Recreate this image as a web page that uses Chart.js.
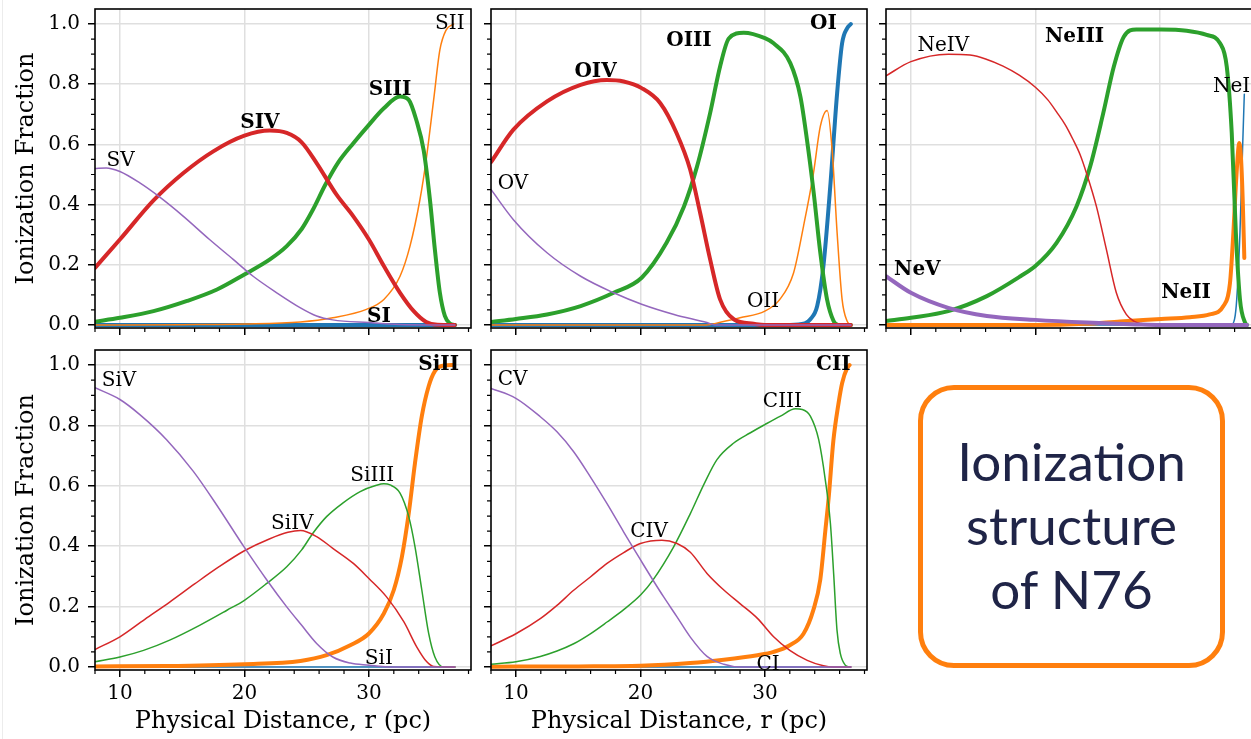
<!DOCTYPE html>
<html><head><meta charset="utf-8">
<script src="https://cdn.jsdelivr.net/npm/chart.js@4.4.1/dist/chart.umd.min.js"></script>
<style>
html,body{margin:0;padding:0;background:#fff;overflow:hidden;width:1251px;height:739px;}
canvas{position:absolute;}
#edge{position:absolute;left:2px;top:0;width:1px;height:739px;background:#ececec;}
#box{position:absolute;left:918px;top:385px;width:307px;height:283px;box-sizing:border-box;border:5px solid #ff7f0e;border-radius:36px;}
#boxtext{position:absolute;left:918px;top:429px;width:307px;text-align:center;font-family:Lato,sans-serif;font-size:53px;line-height:64px;color:#1f2447;}
</style></head>
<body>
<div id="edge"></div>
<canvas id="c1" width="480" height="340" style="left:0;top:0"></canvas>
<canvas id="c2" width="400" height="340" style="left:480px;top:0"></canvas>
<canvas id="c3" width="400" height="340" style="left:876px;top:0"></canvas>
<canvas id="c4" width="480" height="399" style="left:0;top:340px"></canvas>
<canvas id="c5" width="400" height="399" style="left:480px;top:340px"></canvas>
<div id="box"></div>
<div id="boxtext">Ionization<br>structure<br>of N76</div>
<script>
// ---- axes ----
const xTicks = [10, 20, 30];
const yTicks = [0, 0.2, 0.4, 0.6, 0.8, 1.0];
const xMinor = [8, 12, 14, 16, 18, 22, 24, 26, 28, 32, 34, 36, 38];
const yMinor = [0.05, 0.1, 0.15, 0.25, 0.3, 0.35, 0.45, 0.5, 0.55, 0.65, 0.7, 0.75, 0.85, 0.9, 0.95];
const xTitle = 'Physical Distance, r (pc)';
const yTitle = 'Ionization Fraction';

// ---- Sulfur ----
const S_I = [[8,0],[36.9,0]];
const S_II = [[8,0],[15,0.001],[20,0.003],[24.5,0.01],[27.1,0.024],[29.8,0.052],[31.2,0.085],[32.5,0.162],[33.3,0.262],[34.1,0.417],[34.6,0.549],[35.2,0.748],[35.7,0.914],[36.2,0.98],[36.8,1.0]];
const S_III = [[8,0.011],[10,0.024],[12.7,0.046],[15.4,0.08],[17.8,0.118],[20,0.168],[22.05,0.218],[23.4,0.262],[24.6,0.319],[25.5,0.383],[26.5,0.466],[27.5,0.538],[28.75,0.604],[30,0.665],[31.2,0.72],[32.5,0.759],[33.2,0.748],[33.8,0.682],[34.4,0.58],[34.9,0.417],[35.3,0.25],[35.7,0.107],[36.1,0.03],[36.5,0.005],[36.9,0]];
const S_IV = [[8,0.19],[10,0.284],[12.7,0.414],[15.1,0.505],[17.5,0.577],[20,0.629],[22.05,0.646],[23.4,0.638],[24.6,0.607],[25.8,0.538],[27.4,0.433],[28.75,0.361],[30,0.284],[31.2,0.196],[32.5,0.107],[33.6,0.046],[34.6,0.01],[35.5,0.001],[36.9,0]];
const S_V = [[8,0.52],[8.9,0.522],[10,0.51],[11.6,0.472],[13.1,0.428],[15.1,0.361],[17.2,0.284],[19.1,0.218],[20.7,0.162],[22.6,0.107],[24.5,0.057],[25.8,0.03],[27.1,0.017],[30,0.008],[32.5,0.002],[36.9,0]];
const S_names = ['SI','SII','SIII','SIV','SV'];
const S_labelAt = [[30.8,0.035],[36.5,1.008],[31.7,0.79],[21.25,0.678],[10.06,0.551]];

// ---- Oxygen ----
const O_I = [[8,0],[32,0],[33.2,0.005],[33.65,0.019],[34.2,0.063],[34.7,0.196],[35.25,0.461],[35.8,0.77],[36.2,0.936],[36.6,0.986],[36.9,1.0]];
const O_II = [[8,0],[25.3,0],[26.5,0.01],[28,0.024],[30,0.046],[31.2,0.085],[32.3,0.173],[33.1,0.328],[33.9,0.505],[34.45,0.66],[35,0.713],[35.4,0.582],[35.8,0.306],[36.2,0.085],[36.6,0.013],[36.9,0]];
const O_III = [[8,0.01],[10,0.02],[12.5,0.035],[15.2,0.063],[17.85,0.107],[20.1,0.157],[22.1,0.273],[23.5,0.394],[24.55,0.527],[25.6,0.704],[26.4,0.859],[27.1,0.952],[28.3,0.971],[30,0.953],[30.7,0.936],[32.04,0.87],[32.85,0.759],[33.38,0.615],[33.92,0.439],[34.45,0.24],[34.99,0.085],[35.52,0.013],[35.9,0],[36.9,0]];
const O_IV = [[8,0.541],[9.8,0.649],[12.5,0.743],[15.2,0.798],[17.3,0.814],[18.65,0.809],[20.1,0.787],[21.6,0.737],[22.9,0.638],[24,0.516],[24.8,0.372],[25.6,0.218],[26.4,0.085],[27.5,0.019],[29.1,0.004],[30,0],[36.9,0]];
const O_V = [[8,0.45],[9.8,0.35],[12.5,0.24],[15.2,0.162],[17.85,0.107],[20.1,0.069],[22.7,0.035],[25.35,0.008],[26,0],[36.9,0]];
const O_names = ['OI','OII','OIII','OIV','OV'];
const O_labelAt = [[34.7,1.008],[29.85,0.085],[23.9,0.952],[16.4,0.848],[9.77,0.477]];

// ---- Neon ----
const Ne_I = [[8,0],[35.7,0],[36.0,0.02],[36.17,0.085],[36.43,0.307],[36.65,0.6],[36.78,0.767]];
const Ne_II = [[8,0],[20,0],[24,0.004],[26.8,0.012],[30.1,0.02],[32.4,0.026],[34.0,0.035],[35.1,0.063],[35.63,0.14],[35.9,0.306],[36.15,0.5],[36.38,0.605],[36.52,0.55],[36.65,0.417],[36.78,0.223]];
const Ne_III = [[8,0.013],[10,0.024],[13,0.046],[16.1,0.096],[18.8,0.162],[20,0.196],[21.7,0.273],[23.3,0.394],[24.4,0.527],[25.45,0.704],[26.3,0.859],[27.1,0.958],[28.1,0.982],[30.1,0.982],[32.15,0.978],[33.75,0.964],[34.83,0.936],[35.37,0.858],[35.77,0.638],[36.1,0.306],[36.43,0.085],[36.84,0.008],[37,0]];
const Ne_IV = [[8,0.828],[10,0.875],[13,0.9],[14.75,0.897],[16,0.884],[17.4,0.86],[18.7,0.83],[20,0.79],[21,0.748],[21.7,0.708],[22.4,0.665],[23,0.618],[23.6,0.565],[24.1,0.505],[24.9,0.394],[25.7,0.251],[26.5,0.107],[27.3,0.035],[27.9,0.013],[28.5,0.005],[30,0],[37,0]];
const Ne_V = [[8,0.162],[10,0.107],[13,0.057],[16.1,0.03],[20,0.017],[24.1,0.008],[28.1,0.002],[30,0],[37,0]];
const Ne_names = ['NeI','NeII','NeIII','NeIV','NeV'];
const Ne_labelAt = [[35.75,0.798],[32.1,0.113],[23.15,0.966],[12.6,0.936],[10.52,0.19]];

// ---- Silicon ----
const Si_I = [[8,0],[36.9,0]];
const Si_II = [[8,0.002],[13.75,0.003],[20,0.009],[24.5,0.02],[26.6,0.039],[28.5,0.072],[30,0.111],[31.2,0.177],[32,0.255],[32.65,0.365],[33.2,0.509],[33.7,0.675],[34.25,0.831],[34.8,0.93],[35.3,0.98],[36,0.999],[36.8,1.0]];
const Si_III = [[8,0.017],[10,0.033],[11.9,0.055],[14,0.089],[16.4,0.138],[18.6,0.188],[20,0.221],[21.8,0.277],[23.4,0.332],[24.6,0.388],[25.5,0.443],[26.6,0.498],[27.9,0.543],[29.3,0.581],[30.6,0.602],[31.2,0.607],[31.7,0.603],[32.5,0.576],[33.2,0.498],[33.7,0.399],[34.25,0.255],[34.8,0.111],[35.3,0.033],[36,0],[36.9,0]];
const Si_IV = [[8,0.058],[10,0.1],[12,0.158],[14,0.215],[16,0.275],[18,0.333],[20,0.385],[22,0.424],[23.5,0.446],[24.5,0.452],[25.8,0.432],[27.1,0.393],[28.75,0.343],[30,0.293],[31.4,0.233],[32.8,0.15],[33.85,0.066],[34.65,0.017],[35.2,0.002],[36.9,0]];
const Si_V = [[8,0.925],[10,0.886],[11.6,0.836],[13.75,0.753],[15.9,0.648],[17.8,0.535],[20,0.396],[21.8,0.288],[23.4,0.199],[24.6,0.138],[25.8,0.078],[27.1,0.033],[28.5,0.013],[30,0.006],[31.5,0],[36.9,0]];
const Si_names = ['SiI','SiII','SiIII','SiIV','SiV'];
const Si_labelAt = [[30.8,0.033],[35.6,1.008],[30.27,0.639],[23.85,0.482],[9.93,0.955]];

// ---- Carbon ----
const C_I = [[8,0],[36.9,0]];
const C_II = [[8,0.001],[15,0.002],[20,0.004],[24,0.013],[26.7,0.024],[29.4,0.039],[30.7,0.05],[32,0.072],[33.1,0.11],[33.9,0.19],[34.45,0.29],[34.85,0.45],[35.12,0.56],[35.5,0.75],[35.9,0.87],[36.2,0.94],[36.6,0.99],[36.8,1.0]];
const C_III = [[8,0.009],[10,0.017],[11.96,0.035],[13.3,0.053],[14.64,0.077],[15.98,0.11],[17.32,0.149],[18.66,0.19],[20.05,0.24],[20.99,0.287],[22.67,0.398],[24.01,0.508],[25.1,0.605],[26.15,0.687],[27.5,0.742],[28.8,0.775],[30,0.803],[31.25,0.831],[32.45,0.855],[33.0,0.853],[33.65,0.831],[34.32,0.753],[34.85,0.62],[35.26,0.476],[35.52,0.31],[35.79,0.122],[36.06,0.044],[36.46,0.006],[36.8,0]];
const C_IV = [[8,0.07],[10,0.11],[11.96,0.16],[13.3,0.204],[14.64,0.254],[15.98,0.298],[17.32,0.343],[18.66,0.379],[20,0.409],[21.73,0.42],[22.94,0.409],[24.01,0.38],[25.35,0.31],[26.7,0.255],[28,0.21],[29.4,0.161],[30.7,0.1],[32,0.055],[33.4,0.022],[34.7,0.004],[35.5,0],[36.9,0]];
const C_V = [[8,0.923],[10,0.89],[11.96,0.829],[13.3,0.779],[14.64,0.713],[15.98,0.63],[17.32,0.541],[18.66,0.447],[19.46,0.392],[20.05,0.352],[20.99,0.289],[21.87,0.232],[22.94,0.166],[24.01,0.099],[25.35,0.035],[26.7,0.009],[28,0],[36.9,0]];
const C_names = ['CI','CII','CIII','CIV','CV'];
const C_labelAt = [[30.25,0.013],[35.5,1.008],[31.4,0.886],[20.7,0.454],[9.74,0.958]];

// ---- styling ----
const colors = ['#1f77b4','#ff7f0e','#2ca02c','#d62728','#9467bd'];
const FONT = '"DejaVu Serif", serif';

const framePlugin = {
  id: 'ionFrame',
  afterDatasetsDraw(chart, args, opts) {
    const {ctx, chartArea: a} = chart;
    const xs = chart.scales.x, ys = chart.scales.y;
    ctx.save();
    ctx.strokeStyle = '#000';
    ctx.lineWidth = 1.6;
    ctx.strokeRect(a.left, a.top, a.right - a.left, a.bottom - a.top);
    ctx.lineWidth = 1.2;
    ctx.beginPath();
    xMinor.forEach(v => { const p = xs.getPixelForValue(v); if (p >= a.left - 0.5 && p <= a.right + 0.5) { ctx.moveTo(p, a.bottom); ctx.lineTo(p, a.bottom + 4); } });
    yMinor.forEach(v => { const p = ys.getPixelForValue(v); ctx.moveTo(a.left, p); ctx.lineTo(a.left - 4, p); });
    ctx.stroke();
    ctx.fillStyle = '#000';
    ctx.textAlign = 'center';
    ctx.textBaseline = 'alphabetic';
    (opts.items || []).forEach(it => {
      ctx.font = (it.bold ? 'bold ' : '') + '20px ' + FONT;
      ctx.fillText(it.text, xs.getPixelForValue(it.x), ys.getPixelForValue(it.y) + 7.3);
    });
    ctx.restore();
  }
};

function makePanel(id, series, names, labelAt, thick, cfg) {
  const datasets = series.map((s, i) => ({
    data: s.map(p => ({x: p[0], y: p[1]})),
    borderColor: colors[i],
    borderWidth: thick[i] ? 4 : 1.5,
    pointRadius: 0,
    fill: false,
    cubicInterpolationMode: 'monotone',
    borderCapStyle: 'round',
    order: 5 - i
  }));
  const items = names.map((n, i) => ({text: n, x: labelAt[i][0], y: labelAt[i][1], bold: cfg.boldLabels[i]}));
  new Chart(document.getElementById(id), {
    type: 'line',
    data: {datasets},
    plugins: [framePlugin],
    options: {
      responsive: false, animation: false, devicePixelRatio: 1,
      parsing: false,
      layout: {padding: {top: cfg.padTop, right: cfg.padRight, left: 0, bottom: 0}},
      plugins: {legend: {display: false}, tooltip: {enabled: false}, ionFrame: {items}},
      scales: {
        x: {
          type: 'linear', min: 8, max: 38.2,
          afterBuildTicks: ax => { ax.ticks = xTicks.map(v => ({value: v})); },
          afterFit: s => { s.height = cfg.xHeight; s.paddingLeft = 0; s.paddingRight = 0; },
          grid: {color: '#dfdfdf', lineWidth: 1.5, tickColor: '#000', tickLength: 7, tickWidth: 1.5},
          border: {display: false},
          ticks: {display: cfg.showX, color: '#000', font: {family: FONT, size: 20}, padding: 5, maxRotation: 0, callback: v => String(v)},
          title: {display: cfg.showX, text: xTitle, color: '#000', font: {family: FONT, size: 24}, padding: {top: 0, bottom: 3}}
        },
        y: {
          type: 'linear', min: -0.01, max: 1.05,
          afterBuildTicks: ax => { ax.ticks = yTicks.map(v => ({value: v})); },
          afterFit: s => { s.width = cfg.yWidth; s.paddingTop = 0; s.paddingBottom = 0; },
          grid: {color: '#dfdfdf', lineWidth: 1.5, tickColor: '#000', tickLength: 7, tickWidth: 1.5},
          border: {display: false},
          ticks: {display: cfg.showY, color: '#000', font: {family: FONT, size: 20}, padding: 8, callback: v => Number(v).toFixed(1)},
          title: {display: cfg.showY, text: yTitle, color: '#000', font: {family: FONT, size: 24}, padding: {top: 12, bottom: 0}}
        }
      }
    }
  });
}

makePanel('c1', [S_I, S_II, S_III, S_IV, S_V], S_names, S_labelAt, [1,0,1,1,0],
  {padTop: 9, padRight: 9, xHeight: 12, yWidth: 95, showX: false, showY: true, boldLabels: [1,0,1,1,0]});
makePanel('c2', [O_I, O_II, O_III, O_IV, O_V], O_names, O_labelAt, [1,0,1,1,0],
  {padTop: 9, padRight: 13, xHeight: 12, yWidth: 11, showX: false, showY: false, boldLabels: [1,0,1,1,0]});
makePanel('c3', [Ne_I, Ne_II, Ne_III, Ne_IV, Ne_V], Ne_names, Ne_labelAt, [0,1,1,0,1],
  {padTop: 9, padRight: 14, xHeight: 12, yWidth: 10, showX: false, showY: false, boldLabels: [0,1,1,0,1]});
makePanel('c4', [Si_I, Si_II, Si_III, Si_IV, Si_V], Si_names, Si_labelAt, [0,1,0,0,0],
  {padTop: 10, padRight: 9, xHeight: 69, yWidth: 95, showX: true, showY: true, boldLabels: [0,1,0,0,0]});
makePanel('c5', [C_I, C_II, C_III, C_IV, C_V], C_names, C_labelAt, [0,1,0,0,0],
  {padTop: 10, padRight: 13, xHeight: 69, yWidth: 11, showX: true, showY: false, boldLabels: [0,1,0,0,0]});
</script>
</body></html>
